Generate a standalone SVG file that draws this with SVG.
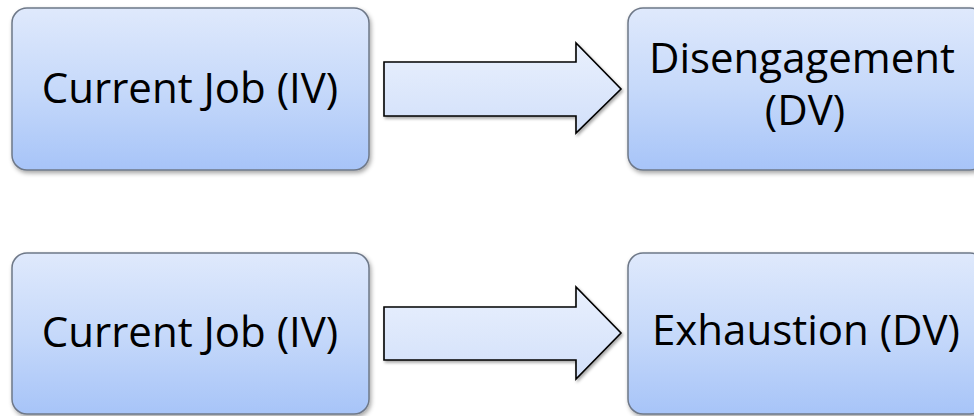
<svg xmlns="http://www.w3.org/2000/svg" width="974" height="416" viewBox="0 0 974 416">
<style>
.box{fill:url(#boxg);stroke:#6e7888;stroke-width:1.5;filter:url(#sh)}
.arr{fill:url(#arrg);stroke:#000;stroke-width:1.6;stroke-linejoin:miter;filter:url(#sh2)}
.lbl{font-family:"Open Sans","Liberation Sans",sans-serif;font-size:42px;fill:#000;text-anchor:middle}
</style>
<defs>
<linearGradient id="boxg" x1="0" y1="0" x2="0" y2="1">
<stop offset="0" stop-color="#dfe9fc"/>
<stop offset="0.5" stop-color="#c6d9fa"/>
<stop offset="1" stop-color="#a7c4f8"/>
</linearGradient>
<linearGradient id="arrg" x1="0" y1="0" x2="0" y2="1">
<stop offset="0" stop-color="#e9f0fd"/>
<stop offset="1" stop-color="#d2e0fa"/>
</linearGradient>
<filter id="sh" x="-10%" y="-10%" width="130%" height="130%">
<feDropShadow dx="1.5" dy="2.5" stdDeviation="2" flood-color="#000" flood-opacity="0.35"/>
</filter>
<filter id="sh2" x="-10%" y="-10%" width="130%" height="130%">
<feDropShadow dx="1.5" dy="2" stdDeviation="1.5" flood-color="#000" flood-opacity="0.35"/>
</filter>
</defs>
<g id="connectors">
<path class="arr" d="M384,62 H576 V43 L621,89 L576,133 V116 H384 Z"/>
<path class="arr" d="M384,307 H576 V287 L621,333 L576,379 V360 H384 Z"/>
</g>
<g id="node-job1">
<rect class="box" x="12" y="8" width="357" height="162" rx="15"/>
<text class="lbl" x="190" y="103">Current Job (IV)</text>
</g>
<g id="node-disengagement">
<rect class="box" x="628" y="8" width="357" height="162" rx="15"/>
<text class="lbl" x="802" y="73">Disengagement</text>
<text class="lbl" x="805" y="125">(DV)</text>
</g>
<g id="node-job2">
<rect class="box" x="12" y="253" width="357" height="161" rx="15"/>
<text class="lbl" x="190" y="347">Current Job (IV)</text>
</g>
<g id="node-exhaustion">
<rect class="box" x="628" y="253" width="357" height="161" rx="15"/>
<text class="lbl" x="806" y="345">Exhaustion (DV)</text>
</g>
</svg>
